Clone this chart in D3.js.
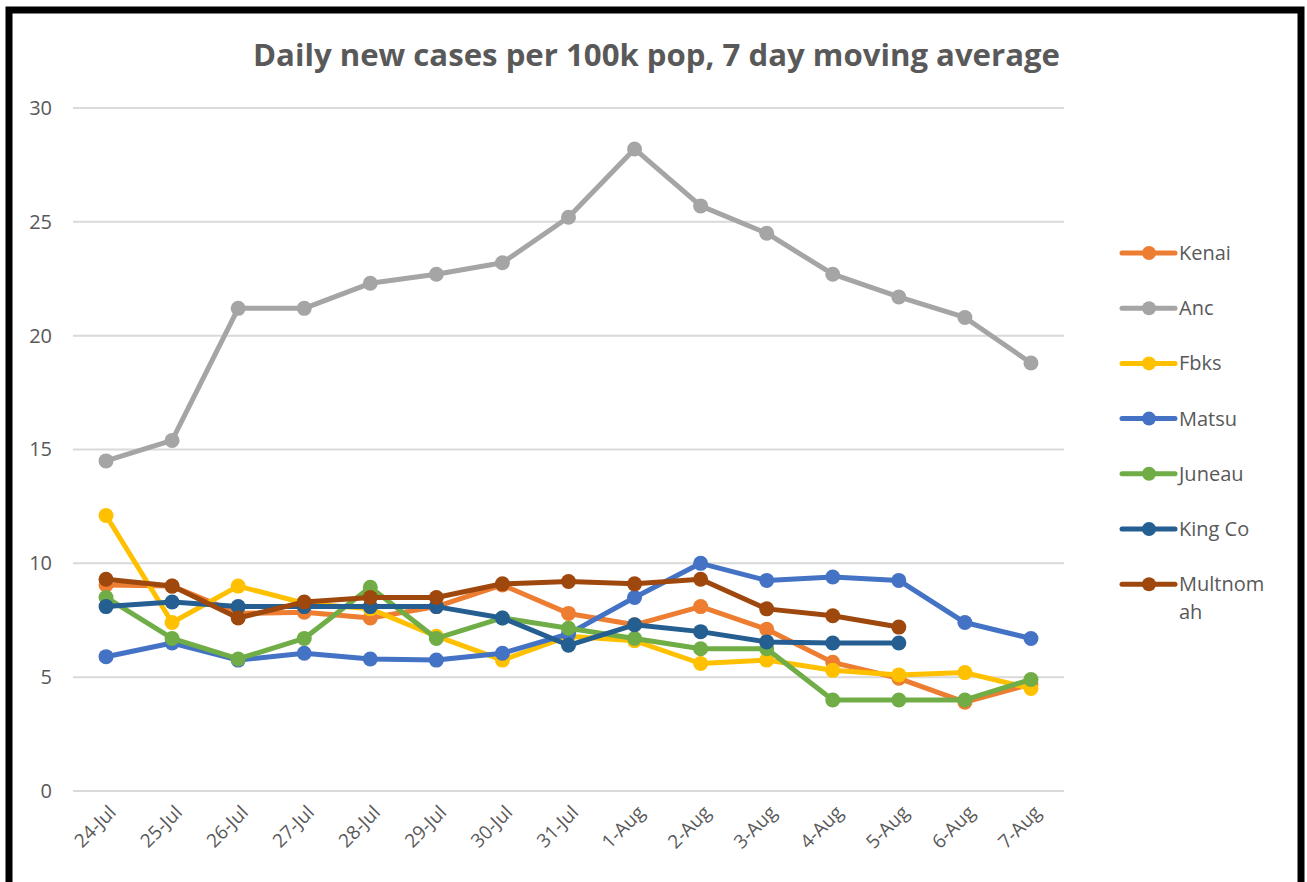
<!DOCTYPE html>
<html>
<head>
<meta charset="utf-8">
<script src="https://cdn.jsdelivr.net/npm/d3@7"></script>
<style>
  body { margin: 0; background: #fff; }
  svg text { font-family: "Open Sans", "Liberation Sans", sans-serif; fill: #595959; }
</style>
</head>
<body>
<div id="chart"></div>
<script>
var days = ["24-Jul","25-Jul","26-Jul","27-Jul","28-Jul","29-Jul","30-Jul","31-Jul",
            "1-Aug","2-Aug","3-Aug","4-Aug","5-Aug","6-Aug","7-Aug"];

var kenai     = [9.05, 9.0, 7.8, 7.85, 7.6, 8.1, 9.05, 7.8, 7.3, 8.1, 7.1, 5.65, 4.95, 3.9, 4.7];
var anc       = [14.5, 15.4, 21.2, 21.2, 22.3, 22.7, 23.2, 25.2, 28.2, 25.7, 24.5, 22.7, 21.7, 20.8, 18.8];
var fbks      = [12.1, 7.4, 9.0, 8.25, 8.0, 6.8, 5.75, 6.8, 6.6, 5.6, 5.75, 5.3, 5.1, 5.2, 4.5];
var matsu     = [5.9, 6.5, 5.75, 6.05, 5.8, 5.75, 6.05, 6.9, 8.5, 10.0, 9.25, 9.4, 9.25, 7.4, 6.7];
var juneau    = [8.5, 6.7, 5.8, 6.7, 8.95, 6.7, 7.6, 7.15, 6.7, 6.25, 6.25, 4.0, 4.0, 4.0, 4.9];
var kingCo    = [8.1, 8.3, 8.1, 8.1, 8.1, 8.1, 7.6, 6.4, 7.3, 7.0, 6.55, 6.5, 6.5, null, null];
var multnomah = [9.3, 9.0, 7.6, 8.3, 8.5, 8.5, 9.1, 9.2, 9.1, 9.3, 8.0, 7.7, 7.2, null, null];

var seriesNames  = ["Kenai","Anc","Fbks","Matsu","Juneau","King Co","Multnomah"];
var seriesValues = [kenai, anc, fbks, matsu, juneau, kingCo, multnomah];
var seriesColors = ["#ED7D31","#A5A5A5","#FFC000","#4472C4","#70AD47","#255E91","#9E480E"];
var yTicks = [0, 5, 10, 15, 20, 25, 30];

var W = 1307, H = 882;
var margin = {top: 108, right: 243, bottom: 91, left: 73};
var width = W - margin.left - margin.right,
    height = H - margin.top - margin.bottom;

var root = d3.select("#chart").append("svg")
    .attr("width", W)
    .attr("height", H);

// outer frame (bottom edge falls outside the picture)
root.append("rect")
    .attr("x", 9).attr("y", 10)
    .attr("width", 1292).attr("height", 900)
    .attr("fill", "none")
    .attr("stroke", "#000")
    .attr("stroke-width", 7);

root.append("text")
    .attr("x", 253).attr("y", 66)
    .attr("textLength", 807)
    .attr("lengthAdjust", "spacingAndGlyphs")
    .style("font-size", "31px")
    .style("font-weight", "bold")
    .text("Daily new cases per 100k pop, 7 day moving average");

var svg = root.append("g")
    .attr("transform", "translate(" + margin.left + "," + margin.top + ")");

var x = d3.scalePoint()
    .domain(days)
    .range([0, width])
    .padding(0.5);

var y = d3.scaleLinear()
    .domain([0, 30])
    .range([height, 0]);

// gridlines
svg.selectAll(".grid")
  .data(yTicks)
  .enter().append("line")
    .attr("class", "grid")
    .attr("x1", 0).attr("x2", width)
    .attr("y1", function(d) { return y(d); })
    .attr("y2", function(d) { return y(d); })
    .attr("stroke", "#D9D9D9")
    .attr("stroke-width", 2);

// y axis labels
var yAxis = svg.append("g")
    .call(d3.axisLeft(y).tickValues(yTicks).tickSize(0).tickPadding(21));
yAxis.select(".domain").remove();
yAxis.selectAll("text")
    .style("font-size", "20px")
    .style("fill", "#595959");

// x axis labels
var xAxis = svg.append("g")
    .attr("transform", "translate(0," + height + ")")
    .call(d3.axisBottom(x).tickSize(0).tickPadding(0));
xAxis.select(".domain").remove();
xAxis.selectAll("text")
    .style("font-size", "19px")
    .style("fill", "#595959")
    .attr("text-anchor", "end")
    .attr("dy", "0.35em")
    .attr("transform", "translate(6,18) rotate(-45)");

var line = d3.line()
    .defined(function(d) { return d != null; })
    .x(function(d, i) { return x(days[i]); })
    .y(function(d) { return y(d); });

seriesValues.forEach(function(vals, k) {
  var g = svg.append("g");
  g.append("path")
      .datum(vals)
      .attr("fill", "none")
      .attr("stroke", seriesColors[k])
      .attr("stroke-width", 5)
      .attr("stroke-linejoin", "round")
      .attr("d", line);
  g.selectAll("circle")
    .data(vals.map(function(v, i) { return {v: v, i: i}; }).filter(function(d) { return d.v != null; }))
    .enter().append("circle")
      .attr("cx", function(d) { return x(days[d.i]); })
      .attr("cy", function(d) { return y(d.v); })
      .attr("r", 7.5)
      .attr("fill", seriesColors[k]);
});

// legend
var legend = root.append("g")
    .attr("transform", "translate(1120,253)");
var item = legend.selectAll(".item")
  .data(seriesNames)
  .enter().append("g")
    .attr("class", "item")
    .attr("transform", function(d, i) { return "translate(0," + i * 55.2 + ")"; });
item.append("line")
    .attr("x1", 2).attr("x2", 55)
    .attr("stroke", function(d, i) { return seriesColors[i]; })
    .attr("stroke-width", 5)
    .attr("stroke-linecap", "round");
item.append("circle")
    .attr("cx", 29).attr("r", 7)
    .attr("fill", function(d, i) { return seriesColors[i]; });
item.append("text")
    .attr("x", 59)
    .attr("dy", "0.35em")
    .style("font-size", "20px")
    .each(function(d) {
      var t = d3.select(this);
      if (d === "Multnomah") {
        t.append("tspan").attr("x", 59).text("Multnom");
        t.append("tspan").attr("x", 59).attr("dy", "1.4em").text("ah");
      } else {
        t.text(d);
      }
    });
</script>
</body>
</html>
